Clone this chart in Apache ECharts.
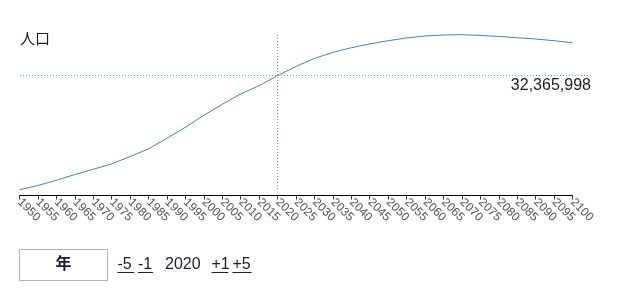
<!DOCTYPE html>
<html>
<head>
<meta charset="utf-8">
<script src="https://cdn.jsdelivr.net/npm/echarts@6/dist/echarts.min.js"></script>
<style>
html,body{margin:0;padding:0;background:#fff;}
#chart{width:626px;height:290px;}
</style>
</head>
<body>
<div id="chart"></div>
<script>
// ---- data ----
const years = [1950,1955,1960,1965,1970,1975,1980,1985,1990,1995,2000,2005,2010,2015,2020,2025,2030,2035,2040,2045,2050,2055,2060,2065,2070,2075,2080,2085,2090,2095,2100];
const population = [6110000,7100000,8310000,9620000,10840000,12080000,13760000,15530000,17960000,20490000,23250000,25770000,28160000,30070000,32365998,34500000,36340000,37720000,38800000,39650000,40410000,41030000,41490000,41720000,41790000,41620000,41390000,41090000,40800000,40410000,39950000];
const selectedYear = 2020;
const selectedValue = 32365998;
const guideEndYear = 2105;
const yAxisTitle = '人口';
const controlLabels = ['-5','-1','2020','+1','+5'];
const fieldLabel = '年';

const FONT = '"Liberation Sans", "Noto Sans CJK JP", sans-serif';
const TEXT = '#1b1b32';
const GUIDE = '#5f9bd3';
const chart = echarts.init(document.getElementById('chart'), null, {renderer:'canvas'});

const seriesData = years.map((y,i)=>[y, population[i]]);
const minPop = Math.min(...population), maxPop = Math.max(...population);

// control positions (layout)
const ctrlX = [117.5, 138, 165, 211.5, 232.5];
const ctrlW = [16.7, 15, 0, 16.7, 19];
const graphics = [
  {type:'rect', shape:{x:19.5,y:249.5,width:88,height:31}, style:{fill:'#fff', stroke:'#aeb2bd', lineWidth:1}},
  {type:'text', x:63.5, y:265, style:{text:fieldLabel, font:'bold 16px '+FONT, fill:TEXT, align:'center', verticalAlign:'middle'}}
];
controlLabels.forEach((t,i)=>{
  graphics.push({type:'text', x:ctrlX[i], y:265, style:{text:t, font:'16px '+FONT, fill:TEXT, align:'left', verticalAlign:'middle'}});
  if (ctrlW[i] > 0) graphics.push({type:'line', shape:{x1:ctrlX[i], y1:272.5, x2:ctrlX[i]+ctrlW[i], y2:272.5}, style:{stroke:TEXT, lineWidth:1}});
});

chart.setOption({
  animation:false,
  title:{text:yAxisTitle, left:20, top:32, padding:0, textStyle:{fontFamily:FONT, fontSize:15, fontWeight:'normal', color:TEXT}},
  grid:{left:19.5, right:53.5, top:20, bottom:94.5, outerBoundsMode:'none', containLabel:false},
  xAxis:{
    type:'value', min:1950, max:2100, interval:5,
    axisLine:{show:true, onZero:false, lineStyle:{color:'#000', width:1}},
    axisTick:{show:true, length:4, lineStyle:{color:'#333'}},
    axisLabel:{rotate:-45, fontSize:12, color:'#555', fontFamily:FONT, margin:5, formatter:v=>String(v), showMinLabel:true, showMaxLabel:true},
    splitLine:{show:false}
  },
  yAxis:{type:'value', min:4800000, max:45170000, show:false, splitLine:{show:false}},
  graphic:graphics,
  series:[
    {type:'line', data:seriesData, symbol:'none', clip:false, lineStyle:{color:'#4682b4', width:1}, z:2}
  ]
});

// guides + value label, positioned through the chart's own scales and snapped to the pixel grid
const toPx = (x,y)=>chart.convertToPixel({gridIndex:0}, [x,y]);
const hA = toPx(years[0], selectedValue), hB = toPx(guideEndYear, selectedValue);
const vA = toPx(selectedYear, maxPop), vB = toPx(selectedYear, minPop);
const hy = Math.floor(hA[1]) + 0.5, vx = Math.floor(vA[0]) + 0.5;
const dash = {stroke:GUIDE, lineWidth:1, lineDash:[1,2]};
chart.setOption({graphic:graphics.concat([
  {type:'line', z:1, shape:{x1:Math.round(hA[0]), y1:hy, x2:Math.round(hB[0]), y2:hy}, style:dash},
  {type:'line', z:1, shape:{x1:vx, y1:Math.round(vA[1]), x2:vx, y2:Math.round(vB[1])}, style:dash},
  {type:'text', x:hB[0], y:hA[1]+1.5, style:{text:selectedValue.toLocaleString('en-US'), font:'16px '+FONT, fill:TEXT, align:'right', verticalAlign:'top'}}
])});
</script>
</body>
</html>
